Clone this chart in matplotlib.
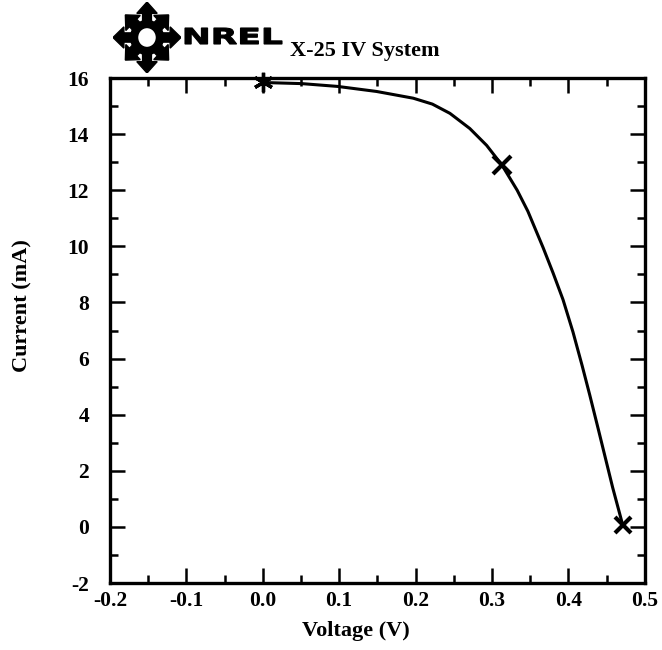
import numpy as np
import matplotlib
matplotlib.use('Agg')
import matplotlib.pyplot as plt
from matplotlib.patches import Polygon, Circle, PathPatch
from matplotlib.textpath import TextPath
from matplotlib.font_manager import FontProperties
from matplotlib.transforms import Affine2D

plt.rcParams.update({
    'font.family': ['Liberation Serif', 'DejaVu Serif'],
    'font.weight': 'bold',
    'font.size': 15,
    'axes.unicode_minus': False,
})

# IV curve
voltage = [0.0, 0.051, 0.098, 0.149, 0.197, 0.222, 0.245, 0.271, 0.293, 0.313,
           0.333, 0.347, 0.367, 0.380, 0.393, 0.406, 0.418, 0.428, 0.439, 0.458, 0.471]
current = [15.84, 15.80, 15.70, 15.52, 15.28, 15.07, 14.74, 14.20, 13.60, 12.90,
           12.00, 11.25, 9.95, 9.05, 8.10, 6.95, 5.75, 4.70, 3.50, 1.40, 0.08]

# marked points: Isc, max power, Voc
isc = (0.0, 15.84)
mpp = (0.313, 12.9)
voc = (0.471, 0.08)

fig = plt.figure(figsize=(6.62, 6.5), dpi=100)
ax = fig.add_axes([0.166, 0.103, 0.808, 0.777])

ax.plot(voltage, current, color='black', lw=2.2, solid_capstyle='round')
ax.plot(*isc, marker=(6, 2, 0), ms=14, mew=2.4, color='black', clip_on=False, zorder=5)
ax.plot(*mpp, marker='x', ms=13, mew=3, color='black', zorder=5)
ax.plot(*voc, marker='x', ms=12, mew=3, color='black', zorder=5)

ax.set_xlim(-0.2, 0.5)
ax.set_ylim(-2, 16)
ax.set_xticks(np.arange(-0.2, 0.51, 0.1))
ax.set_xticks(np.arange(-0.15, 0.5, 0.1), minor=True)
ax.set_yticks(np.arange(-2, 17, 2))
ax.set_yticks(np.arange(-1, 16, 2), minor=True)
ax.set_xticklabels(['-0.2', '-0.1', '0.0', '0.1', '0.2', '0.3', '0.4', '0.5'])
ax.tick_params(which='both', direction='in', top=True, right=True, width=1.8,
               labelsize=15.5)
ax.tick_params(which='major', length=11)
ax.tick_params(which='minor', length=6)
ax.tick_params(axis='x', which='major', pad=6)
ax.tick_params(axis='y', which='major', pad=15)
for s in ax.spines.values():
    s.set_linewidth(2.4)

ax.set_xlabel('Voltage (V)', fontsize=16, fontweight='bold')
ax.set_ylabel('Current (mA)', fontsize=16, fontweight='bold')
ax.xaxis.set_label_coords(0.46, -0.075)
ax.yaxis.set_label_coords(-0.145, 0.55)

# NREL logo (approximation): ring with eight outward arrows
lax = fig.add_axes([113 / 662, 1 - 73 / 650, 68 / 662, 71 / 650])
lax.set_xlim(-1, 1)
lax.set_ylim(-1, 1)
lax.axis('off')
lax.add_patch(Circle((0, 0), 0.38, fill=False, lw=6, color='black'))
for k in range(8):
    a = np.pi / 4 * k
    d = np.array([np.cos(a), np.sin(a)])
    n = np.array([-d[1], d[0]])
    if k % 2 == 0:
        r0, r1, w, hw = 0.35, 1.0, 0.13, 0.3
    else:
        r0, r1, w, hw = 0.35, 0.9, 0.15, 0.3
    pts = [d * r0 + n * w, d * (r1 - 0.32) + n * w, d * (r1 - 0.32) + n * hw, d * r1,
           d * (r1 - 0.32) - n * hw, d * (r1 - 0.32) - n * w, d * r0 - n * w]
    lax.add_patch(Polygon(pts, closed=True, color='black'))

# wide, heavy "NREL" wordmark
tp = TextPath((0, 0), 'NREL', size=1,
              prop=FontProperties(family='DejaVu Sans', weight='bold'))
ext = tp.get_extents()
sx = 97 / ext.width
sy = 16 / ext.height
tr = Affine2D().translate(-ext.x0, -ext.y0).scale(sx, sy).translate(185, 650 - 44)
fig.patches.append(PathPatch(tr.transform_path(tp), color='black', lw=0.8,
                             transform=None, figure=fig))

fig.text(290 / 662, 1 - 56 / 650, 'X-25 IV System', fontsize=16,
         fontweight='bold', va='baseline', ha='left')

fig.savefig('out.png', dpi=100)
